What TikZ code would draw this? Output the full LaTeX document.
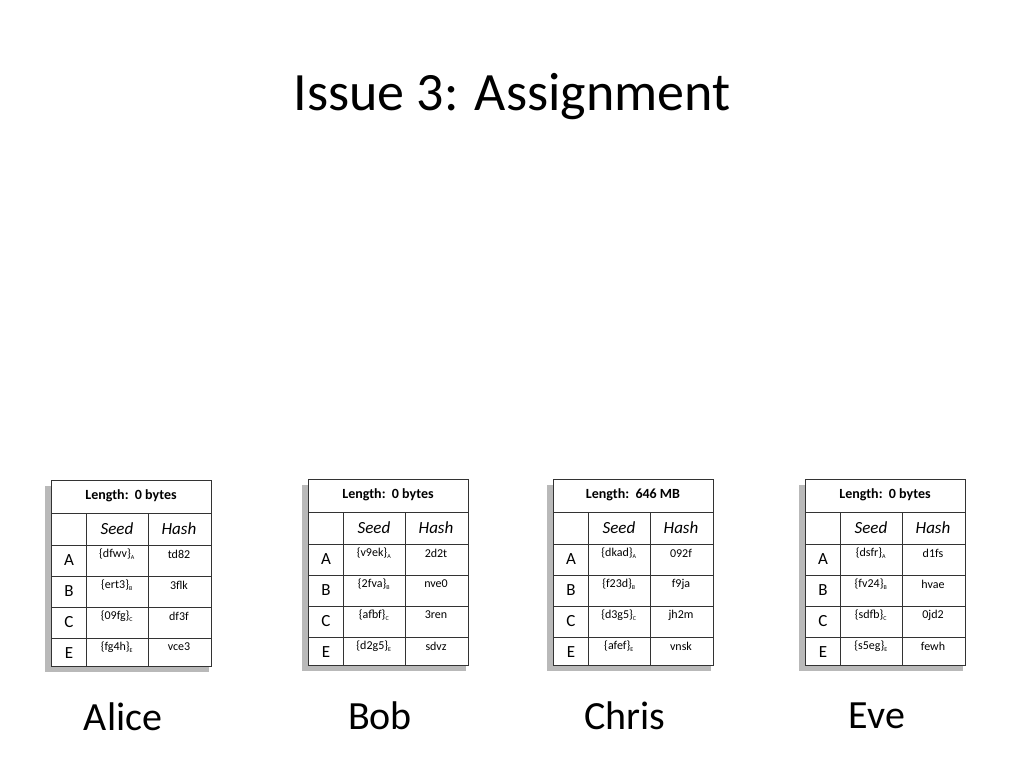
\documentclass[tikz,border=0pt]{standalone}
\usepackage{fontspec}
\setmainfont{Carlito}
\usetikzlibrary{positioning}

\tikzset{
    grid_line/.style={draw=black!80, line width=0.9pt},
    head_text/.style={font=\fontsize{14}{16}\selectfont\bfseries},
    col_text/.style={font=\fontsize{17}{19}\selectfont\itshape},
    key_text/.style={font=\fontsize{17}{19}\selectfont},
    val_text/.style={font=\fontsize{12}{14}\selectfont},
    name_text/.style={font=\fontsize{40}{44}\selectfont}
}

% One account table: id, left x, top y, length text, rows, person
\newcommand{\accttable}[6]{
    % shadow
    \fill[gray!55] (#2-6,#3+6) rectangle (#2+158,#3+192);
    \fill[white] (#2,#3) rectangle (#2+160,#3+186);
    \draw[grid_line] (#2,#3) rectangle (#2+160,#3+186);
    \draw[grid_line] (#2,#3+33) -- (#2+160,#3+33);
    \foreach \yy in {65,96,127,158} {
        \draw[grid_line] (#2,#3+\yy) -- (#2+160,#3+\yy);
    }
    \draw[grid_line] (#2+35,#3+33) -- (#2+35,#3+186);
    \draw[grid_line] (#2+97,#3+33) -- (#2+97,#3+186);
    \node[head_text] (#1_len) at (#2+80,#3+16) {Length:\ \ #4};
    \node[col_text] (#1_seed) at (#2+66,#3+49) {Seed};
    \node[col_text] (#1_hash) at (#2+128,#3+49) {Hash};
    \foreach \k/\s/\h [count=\i] in {#5} {
        \node[key_text] (#1_key\i) at (#2+18,#3+49+31*\i) {\k};
        \node[val_text] (#1_seed\i) at (#2+66,#3+43+31*\i) {\{\s\}$_{\scriptscriptstyle\mathrm{\k}}$};
        \node[val_text] (#1_hash\i) at (#2+128,#3+43+31*\i) {\h};
    }
    \node[name_text] (#1_name) at (#2+72,#3+237) {#6};
}

\begin{document}
\begin{tikzpicture}[x=1pt, y=-1pt]
\useasboundingbox[fill=white] (0,0) rectangle (1024,768);

% Title
\node[font=\fontsize{54}{60}\selectfont] (title) at (512,97) {Issue 3: Assignment};

% Account tables
\accttable{alice}{51}{480}{0 bytes}{A/dfwv/td82, B/ert3/3flk, C/09fg/df3f, E/fg4h/vce3}{Alice}
\accttable{bob}{308}{479}{0 bytes}{A/v9ek/2d2t, B/2fva/nve0, C/afbf/3ren, E/d2g5/sdvz}{Bob}
\accttable{chris}{553}{479}{646 MB}{A/dkad/092f, B/f23d/f9ja, C/d3g5/jh2m, E/afef/vnsk}{Chris}
\accttable{eve}{805}{479}{0 bytes}{A/dsfr/d1fs, B/fv24/hvae, C/sdfb/0jd2, E/s5eg/fewh}{Eve}

\end{tikzpicture}
\end{document}
